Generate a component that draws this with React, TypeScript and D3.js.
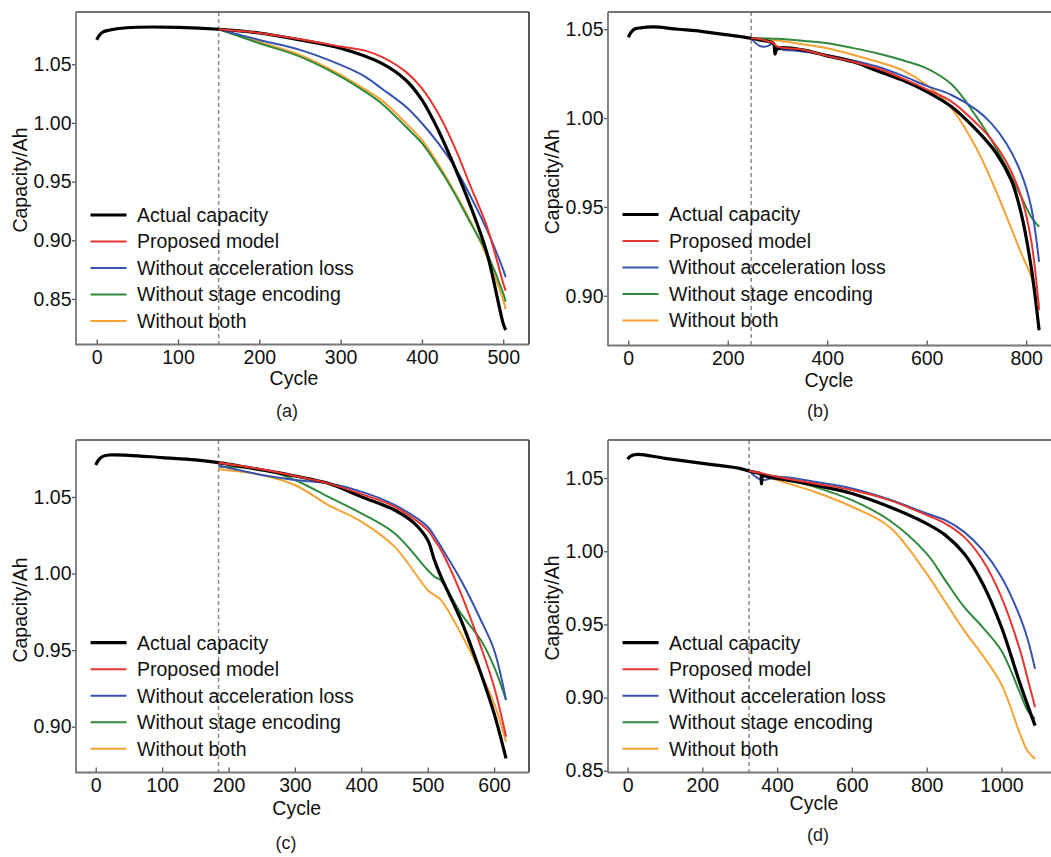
import React, { useRef, useEffect } from 'react'
import * as d3 from 'd3'

// series names / colours
const SERIES = ['Actual capacity', 'Proposed model', 'Without acceleration loss', 'Without stage encoding', 'Without both']
const COLORS = ['#000000', '#e8342e', '#3553b0', '#2f8a3c', '#f7a233']

// ---- panel (a)
const A_ACT_CYCLES = [0, 3, 8, 15, 25, 50, 100, 150, 200, 250, 300, 350, 380, 400, 420, 440, 460, 480, 500, 503]
const A_ACTUAL = [1.0707, 1.0745, 1.0775, 1.079, 1.0802, 1.0815, 1.0814, 1.0798, 1.0766, 1.0707, 1.0636, 1.0509, 1.0366, 1.0196, 0.994, 0.9628, 0.9287, 0.889, 0.829, 0.8236]
const A_PRED_CYCLES = [150, 200, 250, 300, 330, 350, 380, 400, 420, 440, 460, 480, 500, 503]
const A_PROPOSED = [1.0798, 1.0766, 1.0713, 1.0651, 1.0616, 1.0565, 1.0437, 1.0295, 1.0082, 0.9798, 0.9457, 0.9116, 0.8633, 0.857]
const A_NO_ACCEL = [1.0798, 1.0707, 1.0622, 1.0494, 1.0395, 1.0295, 1.0139, 0.9997, 0.9827, 0.9628, 0.9372, 0.9088, 0.8747, 0.8685]
const A_NO_STAGE = [1.0798, 1.0679, 1.0565, 1.0395, 1.0267, 1.0168, 0.9969, 0.9827, 0.9628, 0.9401, 0.9145, 0.8889, 0.8548, 0.8477]
const A_NO_BOTH = [1.0798, 1.069, 1.058, 1.041, 1.0285, 1.0196, 1.0, 0.9855, 0.965, 0.9415, 0.9159, 0.886, 0.849, 0.8412]

// ---- panel (b)
const B_ACT_CYCLES = [0, 5, 12, 25, 50, 100, 150, 200, 247, 270, 285, 292, 295, 298, 305, 350, 400, 450, 500, 550, 600, 650, 700, 740, 770, 790, 810, 826]
const B_ACTUAL = [1.0455, 1.048, 1.05, 1.0508, 1.0513, 1.05, 1.0487, 1.0468, 1.0449, 1.0437, 1.043, 1.042, 1.036, 1.0385, 1.0395, 1.0384, 1.035, 1.0318, 1.0267, 1.0215, 1.0149, 1.0064, 0.9933, 0.9802, 0.9651, 0.9464, 0.9163, 0.8806]
const B_PRED_CYCLES = [247, 265, 280, 290, 300, 350, 400, 450, 500, 550, 600, 650, 700, 730, 760, 790, 810, 826]
const B_PROPOSED = [1.0449, 1.0445, 1.0432, 1.0425, 1.0402, 1.0385, 1.035, 1.0318, 1.028, 1.0225, 1.0162, 1.0093, 0.997, 0.988, 0.9755, 0.9557, 0.9313, 0.8919]
const B_NO_ACCEL = [1.0449, 1.0405, 1.0405, 1.042, 1.0393, 1.0375, 1.0355, 1.0325, 1.029, 1.024, 1.0181, 1.013, 1.0046, 0.997, 0.9858, 0.9689, 0.95, 0.9191]
const B_NO_STAGE = [1.0449, 1.0449, 1.0448, 1.0447, 1.0446, 1.0435, 1.0421, 1.0395, 1.0365, 1.0327, 1.028, 1.019, 1.0008, 0.9877, 0.9726, 0.9557, 0.9445, 0.9388]
const B_NO_BOTH = [1.0449, 1.0445, 1.044, 1.0438, 1.0436, 1.0416, 1.0393, 1.0358, 1.0318, 1.0271, 1.0186, 1.0055, 0.983, 0.965, 0.945, 0.924, 0.911, 0.8947]

// ---- panel (c)
const C_ACT_CYCLES = [0, 4, 10, 20, 50, 100, 150, 185, 250, 300, 350, 400, 450, 480, 500, 510, 520, 550, 580, 600, 618]
const C_ACTUAL = [1.0709, 1.074, 1.0763, 1.0774, 1.0772, 1.0757, 1.0742, 1.0724, 1.0676, 1.0637, 1.0589, 1.0502, 1.0415, 1.0328, 1.0219, 1.0089, 0.998, 0.9697, 0.9349, 0.9087, 0.8793]
const C_PRED_CYCLES = [185, 250, 300, 350, 400, 450, 500, 510, 520, 550, 580, 600, 618]
const C_PROPOSED = [1.0724, 1.0681, 1.0637, 1.0589, 1.052, 1.0437, 1.0284, 1.022, 1.0154, 0.9871, 0.9523, 0.9261, 0.8935]
const C_NO_ACCEL = [1.0705, 1.0644, 1.0611, 1.0589, 1.0535, 1.0448, 1.0306, 1.0245, 1.0176, 0.9958, 0.9697, 0.9501, 0.9174]
const C_NO_STAGE = [1.0698, 1.0681, 1.0611, 1.0502, 1.0393, 1.0263, 1.0023, 0.998, 0.9955, 0.974, 0.9566, 0.9392, 0.9174]
const C_NO_BOTH = [1.0681, 1.0644, 1.0578, 1.0448, 1.0339, 1.0176, 0.9893, 0.986, 0.9827, 0.961, 0.9349, 0.9153, 0.8902]

// ---- panel (d)
const D_ACT_CYCLES = [0, 6, 15, 30, 100, 200, 300, 325, 350, 356, 358, 362, 380, 400, 500, 600, 700, 800, 850, 900, 950, 1000, 1050, 1090]
const D_ACTUAL = [1.0628, 1.0645, 1.0658, 1.0662, 1.0635, 1.06, 1.0566, 1.0548, 1.0535, 1.053, 1.046, 1.0515, 1.0505, 1.0498, 1.0452, 1.0395, 1.0304, 1.0189, 1.011, 0.9984, 0.9778, 0.9482, 0.9094, 0.8808]
const D_PRED_CYCLES = [325, 360, 400, 500, 600, 700, 800, 850, 900, 950, 1000, 1050, 1070, 1090]
const D_PROPOSED = [1.0548, 1.0532, 1.0509, 1.0463, 1.0418, 1.0349, 1.0247, 1.0189, 1.0098, 0.9938, 0.9687, 0.9322, 0.913, 0.8934]
const D_NO_ACCEL = [1.0548, 1.0486, 1.0509, 1.0475, 1.0429, 1.0354, 1.0258, 1.0212, 1.0132, 1.0007, 0.9824, 0.955, 0.94, 0.9196]
const D_NO_STAGE = [1.0548, 1.0525, 1.0509, 1.044, 1.0349, 1.0212, 0.9984, 0.9801, 0.9619, 0.948, 0.932, 0.903, 0.8911, 0.8854]
const D_NO_BOTH = [1.0548, 1.052, 1.0486, 1.0406, 1.0304, 1.0167, 0.9847, 0.9653, 0.9459, 0.9288, 0.909, 0.875, 0.8635, 0.858]

const FONT = '"Liberation Sans", Arial, sans-serif'

const PANELS = [
	{
		label: '(a)', box: [76, 12, 529, 344.5], xDom: [-25.5, 531.7], yDom: [0.8112, 1.0945],
		xTicks: [0, 100, 200, 300, 400, 500], yTicks: [0.85, 0.9, 0.95, 1.0, 1.05], split: 150,
		act: [A_ACT_CYCLES, A_ACTUAL], predX: A_PRED_CYCLES, preds: [A_PROPOSED, A_NO_ACCEL, A_NO_STAGE, A_NO_BOTH],
		legend: [90.5, 215], ylab: [20, 180], xlab: [294, 378], sub: [287, 411],
	},
	{
		label: '(b)', box: [608, 12, 1056, 345.5], xDom: [-40.8, 860], yDom: [0.872, 1.0597],
		xTicks: [0, 200, 400, 600, 800], yTicks: [0.9, 0.95, 1.0, 1.05], split: 247,
		act: [B_ACT_CYCLES, B_ACTUAL], predX: B_PRED_CYCLES, preds: [B_PROPOSED, B_NO_ACCEL, B_NO_STAGE, B_NO_BOTH],
		legend: [622.5, 214.5], ylab: [551.7, 181.7], xlab: [829, 380], sub: [818, 411],
	},
	{
		label: '(c)', box: [76, 440, 529, 772.5], xDom: [-29.7, 652.6], yDom: [0.8701, 1.0872],
		xTicks: [0, 100, 200, 300, 400, 500, 600], yTicks: [0.9, 0.95, 1.0, 1.05], split: 185,
		act: [C_ACT_CYCLES, C_ACTUAL], predX: C_PRED_CYCLES, preds: [C_PROPOSED, C_NO_ACCEL, C_NO_STAGE, C_NO_BOTH],
		legend: [90.5, 642.7], ylab: [20, 610], xlab: [296.7, 808], sub: [286, 843],
	},
	{
		label: '(d)', box: [608, 440, 1056, 772.5], xDom: [-52.4, 1146], yDom: [0.8488, 1.076],
		xTicks: [0, 200, 400, 600, 800, 1000], yTicks: [0.85, 0.9, 0.95, 1.0, 1.05], split: 325,
		act: [D_ACT_CYCLES, D_ACTUAL], predX: D_PRED_CYCLES, preds: [D_PROPOSED, D_NO_ACCEL, D_NO_STAGE, D_NO_BOTH],
		legend: [622.5, 642.7], ylab: [551.7, 608], xlab: [814, 803], sub: [818, 835],
	},
]

const App = () => {
	const svgRef = useRef<SVGSVGElement>(null)

	useEffect(() => {
		const svg = d3.select(svgRef.current)
		svg.selectAll('*').remove()

		PANELS.forEach((p, pi) => {
			const [x0, y0, x1, y1] = p.box
			const x = d3.scaleLinear().domain(p.xDom).range([x0, x1])
			const y = d3.scaleLinear().domain(p.yDom).range([y1, y0])
			const g = svg.append('g')

			const clipId = `clip${pi}`
			g.append('clipPath').attr('id', clipId).append('rect')
				.attr('x', x0).attr('y', y0).attr('width', x1 - x0).attr('height', y1 - y0)

			// axes (x ticks point inward, y ticks outward)
			const xAxis = d3.axisBottom(x).tickValues(p.xTicks).tickSize(-5).tickPadding(5.5).tickFormat(d3.format('d'))
			const gx = g.append('g').attr('transform', `translate(0,${y1})`).call(xAxis)
			const yAxis = d3.axisLeft(y).tickValues(p.yTicks).tickSize(4).tickPadding(0.5).tickFormat(d3.format('.2f'))
			const gy = g.append('g').attr('transform', `translate(${x0},0)`).call(yAxis)
			;[gx, gy].forEach(ax => {
				ax.select('.domain').remove()
				ax.selectAll('line').attr('stroke', '#555').attr('stroke-width', 1.3)
				ax.selectAll('text').attr('font-family', FONT).attr('font-size', 19.5).attr('fill', '#111')
			})

			const line = d3.line<[number, number]>()
				.x(d => x(d[0])).y(d => y(d[1])).curve(d3.curveCatmullRom.alpha(0.5))
			const plot = g.append('g').attr('clip-path', `url(#${clipId})`)

			// dashed split marker
			plot.append('line')
				.attr('x1', x(p.split)).attr('x2', x(p.split)).attr('y1', y0).attr('y2', y1)
				.attr('stroke', '#8a8a8a').attr('stroke-width', 1.5).attr('stroke-dasharray', '4,3')

			const predPts = (vals: number[]) => p.predX.map((c, i) => [c, vals[i]] as [number, number])
			const actPts = p.act[0].map((c, i) => [c, p.act[1][i]] as [number, number])

			// draw order: both, stage, accel, then actual, then proposed
			;[3, 2, 1].forEach(k => {
				plot.append('path').attr('d', line(predPts(p.preds[k]))).attr('fill', 'none')
					.attr('stroke', COLORS[k + 1]).attr('stroke-width', 2)
			})
			plot.append('path').attr('d', line(actPts)).attr('fill', 'none')
				.attr('stroke', COLORS[0]).attr('stroke-width', 3.2).attr('stroke-linejoin', 'round')
			plot.append('path').attr('d', line(predPts(p.preds[0]))).attr('fill', 'none')
				.attr('stroke', COLORS[1]).attr('stroke-width', 2)

			// frame
			g.append('line').attr('x1', x0).attr('x2', x1).attr('y1', y0).attr('y2', y0).attr('stroke', '#444').attr('stroke-width', 1.5)
			g.append('line').attr('x1', x1).attr('x2', x1).attr('y1', y0).attr('y2', y1).attr('stroke', '#222').attr('stroke-width', 1.5)
			g.append('line').attr('x1', x0).attr('x2', x0).attr('y1', y0).attr('y2', y1 + 0.75).attr('stroke', '#777').attr('stroke-width', 1.8)
			g.append('line').attr('x1', x0).attr('x2', x1).attr('y1', y1).attr('y2', y1).attr('stroke', '#777').attr('stroke-width', 1.8)

			// legend
			const [lx, ly] = p.legend
			SERIES.forEach((name, i) => {
				const yy = ly + i * 26.5
				g.append('line').attr('x1', lx).attr('x2', lx + 36).attr('y1', yy).attr('y2', yy)
					.attr('stroke', COLORS[i]).attr('stroke-width', i === 0 ? 3.2 : 2)
				g.append('text').attr('x', lx + 46.5).attr('y', yy).attr('dy', '0.35em')
					.attr('font-family', FONT).attr('font-size', 19.5).attr('fill', '#111').text(name)
			})

			// labels
			g.append('text').attr('transform', `translate(${p.ylab[0]},${p.ylab[1]}) rotate(-90)`)
				.attr('text-anchor', 'middle').attr('dy', '0.35em')
				.attr('font-family', FONT).attr('font-size', 19.5).attr('fill', '#111').text('Capacity/Ah')
			g.append('text').attr('x', p.xlab[0]).attr('y', p.xlab[1]).attr('dy', '0.35em').attr('text-anchor', 'middle')
				.attr('font-family', FONT).attr('font-size', 19.5).attr('fill', '#111').text('Cycle')
			g.append('text').attr('x', p.sub[0]).attr('y', p.sub[1]).attr('dy', '0.35em').attr('text-anchor', 'middle')
				.attr('font-family', FONT).attr('font-size', 18).attr('fill', '#222').text(p.label)
		})
	}, [])

	return (
		<svg ref={svgRef} width={1051} height={857}
			style={{ position: 'absolute', left: 0, top: 0, background: '#fff' }} />
	)
}

export default App
